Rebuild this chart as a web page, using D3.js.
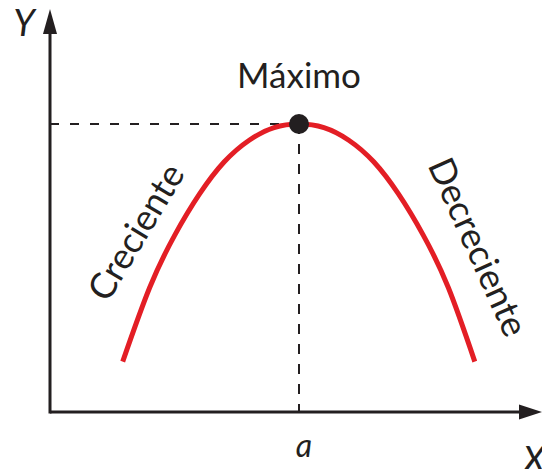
<!DOCTYPE html>
<html><head><meta charset="utf-8">
<script src="https://cdn.jsdelivr.net/npm/d3@7"></script>
<style>html,body{margin:0;padding:0;background:#fff;}svg{display:block;}</style>
</head><body>
<script>
// Data (x in units where the maximum sits at a = 5)
const curveX = [1.46, 2.0, 2.5, 3.0, 3.5, 4.0, 4.5, 5.0, 5.5, 6.0, 6.5, 7.0, 7.5, 8.0, 8.53];
const curveY = [1.40, 3.45, 4.90, 6.05, 6.95, 7.55, 7.90, 8.0, 7.90, 7.55, 6.95, 6.05, 4.90, 3.45, 1.40];
const maxPoint = {x: 5.0, y: 8.0};
const labels = {max: "Máximo", up: "Creciente", down: "Decreciente", xAxis: "X", yAxis: "Y", a: "a"};

const W = 542, H = 469;
const x = d3.scaleLinear().domain([0, 10]).range([50, 548]);
const y = d3.scaleLinear().domain([0, 10]).range([412, 52]);

const svg = d3.select("body").append("svg").attr("width", W).attr("height", H);
const ink = "#231f20", red = "#e31e25";
const font = "Lato, 'Open Sans', sans-serif";

// dashed guides
svg.append("line").attr("x1", x(0)).attr("x2", x(maxPoint.x)).attr("y1", y(maxPoint.y)).attr("y2", y(maxPoint.y))
  .attr("stroke", ink).attr("stroke-width", 2).attr("stroke-dasharray", "9,11");
svg.append("line").attr("x1", x(maxPoint.x)).attr("x2", x(maxPoint.x)).attr("y1", y(maxPoint.y)).attr("y2", y(0))
  .attr("stroke", ink).attr("stroke-width", 2).attr("stroke-dasharray", "10,10");

// axes
const x0 = x(0), y0 = y(0);
svg.append("line").attr("x1", x0).attr("x2", 522).attr("y1", y0).attr("y2", y0).attr("stroke", ink).attr("stroke-width", 3);
svg.append("line").attr("x1", x0).attr("x2", x0).attr("y1", y0 + 1.5).attr("y2", 31).attr("stroke", ink).attr("stroke-width", 3);
svg.append("path").attr("d", `M${x0},9 L${x0 + 7},34 L${x0 - 7},34 Z`).attr("fill", ink);
svg.append("path").attr("d", `M542,${y0} L519,${y0 - 7.5} L519,${y0 + 7.5} Z`).attr("fill", ink);

// curve
const pts = curveX.map((v, i) => [v, curveY[i]]);
svg.append("path").datum(pts)
  .attr("d", d3.line().x(d => x(d[0])).y(d => y(d[1])).curve(d3.curveNatural))
  .attr("fill", "none").attr("stroke", red).attr("stroke-width", 5);

// max point
svg.append("circle").attr("cx", x(maxPoint.x)).attr("cy", y(maxPoint.y)).attr("r", 10).attr("fill", ink);

// texts
svg.append("text").attr("x", x(maxPoint.x)).attr("y", 88).attr("text-anchor", "middle")
  .attr("font-family", font).attr("font-size", 35).attr("fill", ink).text(labels.max);
svg.append("text").attr("transform", "translate(136,232) rotate(-59)").attr("text-anchor", "middle").attr("dy", "0.35em")
  .attr("font-family", font).attr("font-size", 36).attr("fill", ink).text(labels.up);
svg.append("text").attr("transform", "translate(478,247) rotate(65.8)").attr("text-anchor", "middle").attr("dy", "0.35em")
  .attr("font-family", font).attr("font-size", 36).attr("fill", ink).text(labels.down);
svg.append("text").attr("x", 24).attr("y", 36).attr("text-anchor", "middle").attr("font-style", "italic")
  .attr("font-family", font).attr("font-size", 37).attr("fill", ink).text(labels.yAxis);
svg.append("text").attr("x", 534).attr("y", 473).attr("text-anchor", "middle").attr("font-style", "italic")
  .attr("font-family", font).attr("font-size", 37).attr("fill", ink).text(labels.xAxis);
svg.append("text").attr("x", x(maxPoint.x) + 5).attr("y", 457).attr("text-anchor", "middle").attr("font-style", "italic")
  .attr("font-family", font).attr("font-size", 32).attr("fill", ink).text(labels.a);
</script>
</body></html>
